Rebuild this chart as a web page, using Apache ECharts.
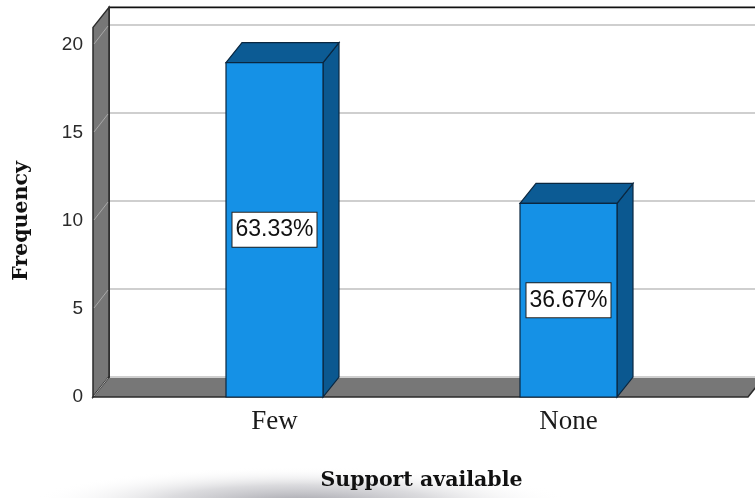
<!DOCTYPE html>
<html>
<head>
<meta charset="utf-8">
<script src="https://cdn.jsdelivr.net/npm/echarts@6/dist/echarts.min.js"></script>
<style>
  html, body { margin: 0; padding: 0; background: #ffffff; }
  #chart { width: 755px; height: 498px; }
</style>
</head>
<body>
<div id="chart"></div>
<script>
// Frequencies of the "Support available" responses
const categories = ['Few', 'None'];
const frequencies = [19, 11];
const yTicks = [0, 5, 10, 15, 20];

const total = frequencies.reduce((a, b) => a + b, 0);
const percentLabels = frequencies.map(v => (v / total * 100).toFixed(2) + '%');

// 3D extrusion and frame geometry
const DX = 16, DY = 20;          // depth offset of the walls and bar tops
const BAR_W = 97;                // width of a bar's front face
const AXIS_SHIFT = 34.5;         // front edge of the side wall, left of the grid
const FLOOR_RIGHT_EXTRA = 32.5;  // floor reaches this far beyond the grid
const WALL_TOP = 21.0;           // value reached by the top of the walls

const FRONT = '#1591e6', TOP = '#0c5b94', SIDE = '#0b5890', EDGE = '#0a2740';
const WALL = '#777777', WALL_EDGE = '#2b2b2b';

const chart = echarts.init(document.getElementById('chart'), null, { renderer: 'canvas' });

function renderFrame(params, api) {
  const cs = params.coordSys;
  const x0 = cs.x - AXIS_SHIFT;
  const yBase = api.coord([0, 0])[1];
  const yTop = api.coord([0, WALL_TOP])[1];
  const xFrontRight = cs.x + cs.width + FLOOR_RIGHT_EXTRA;
  const xFar = api.getWidth() + 40;
  return {
    type: 'group',
    children: [
      // back wall
      { type: 'rect', shape: { x: x0 + DX, y: yTop - DY, width: xFar, height: yBase - yTop },
        style: { fill: '#ffffff' } },
      { type: 'polyline', shape: { points: [[x0 + DX, yBase - DY], [x0 + DX, yTop - DY], [xFar, yTop - DY]] },
        style: { fill: null, stroke: '#111111', lineWidth: 1.6 } },
      // side wall
      { type: 'polygon', shape: { points: [[x0, yBase], [x0 + DX, yBase - DY], [x0 + DX, yTop - DY], [x0, yTop]] },
        style: { fill: WALL, stroke: WALL_EDGE, lineWidth: 1.5 } },
      // floor
      { type: 'polygon', shape: { points: [[x0, yBase], [x0 + DX, yBase - DY], [xFar, yBase - DY], [xFrontRight + DX, yBase - DY], [xFrontRight, yBase]] },
        style: { fill: WALL, stroke: WALL_EDGE, lineWidth: 1.5 } }
    ]
  };
}

function renderGridLine(params, api) {
  const cs = params.coordSys;
  const x0 = cs.x - AXIS_SHIFT;
  const y = api.coord([0, api.value(0)])[1];
  const xFar = api.getWidth() + 40;
  return {
    type: 'group',
    children: [
      { type: 'line', shape: { x1: x0 + DX + 1, y1: y - DY, x2: xFar, y2: y - DY },
        style: { stroke: '#cfcfcf', lineWidth: 2 } },
      { type: 'line', shape: { x1: x0 + 1, y1: y - 1, x2: x0 + DX - 1, y2: y - DY + 1 },
        style: { stroke: '#a8a8a8', lineWidth: 1 } }
    ]
  };
}

function renderBar(params, api) {
  const idx = api.value(0);
  const val = api.value(1);
  const top = api.coord([idx, val]);
  const base = api.coord([idx, 0]);
  const xl = top[0] - BAR_W / 2, xr = top[0] + BAR_W / 2;
  const yt = top[1], yb = base[1];
  return {
    type: 'group',
    children: [
      { type: 'polygon', shape: { points: [[xr, yt], [xr + DX, yt - DY], [xr + DX, yb - DY], [xr, yb]] },
        style: { fill: SIDE, stroke: EDGE, lineWidth: 1.2 } },
      { type: 'polygon', shape: { points: [[xl, yt], [xl + DX, yt - DY], [xr + DX, yt - DY], [xr, yt]] },
        style: { fill: TOP, stroke: EDGE, lineWidth: 1.2 } },
      { type: 'rect', shape: { x: xl, y: yt, width: BAR_W, height: yb - yt },
        style: { fill: FRONT, stroke: EDGE, lineWidth: 1.2 } },
      { type: 'text', x: top[0], y: (yt + yb) / 2,
        style: {
          text: percentLabels[idx],
          fill: '#111111',
          font: '23px "Liberation Sans", Arial, sans-serif',
          align: 'center', verticalAlign: 'middle',
          backgroundColor: '#ffffff', borderColor: '#222222', borderWidth: 1,
          padding: [6, 3, 5, 3]
        } }
    ]
  };
}

chart.setOption({
  animation: false,
  backgroundColor: '#ffffff',
  // soft grey smudge under the axis title
  graphic: [{
    type: 'circle',
    z: -10,
    silent: true,
    x: 300, y: 503,
    scaleX: 7.5, scaleY: 1,
    shape: { cx: 0, cy: 0, r: 36 },
    style: {
      fill: {
        type: 'radial', x: 0.5, y: 0.5, r: 0.5,
        colorStops: [
          { offset: 0, color: 'rgba(100,100,112,0.6)' },
          { offset: 0.5, color: 'rgba(135,135,145,0.3)' },
          { offset: 1, color: 'rgba(255,255,255,0)' }
        ]
      }
    }
  }],
  grid: { left: 127.5, top: 45, width: 588, height: 352, containLabel: false, outerBoundsMode: 'none' },
  xAxis: {
    type: 'category',
    data: categories,
    axisLine: { show: false },
    axisTick: { show: false },
    axisLabel: { color: '#1a1a1a', fontFamily: '"Liberation Serif", serif', fontSize: 27, margin: 11 },
    name: 'Support available',
    nameLocation: 'middle',
    nameGap: 73,
    nameTextStyle: { color: '#111111', fontFamily: '"DejaVu Serif", serif', fontWeight: 'bold', fontSize: 20.5 }
  },
  yAxis: {
    type: 'value',
    min: 0, max: 20, interval: 5,
    offset: AXIS_SHIFT,
    axisLine: { show: false },
    axisTick: { show: false },
    splitLine: { show: false },
    axisLabel: { color: '#2a2a2a', fontFamily: '"Liberation Sans", Arial, sans-serif', fontSize: 19, margin: 10 },
    name: 'Frequency',
    nameLocation: 'middle',
    nameRotate: 90,
    nameGap: 61,
    nameTextStyle: { color: '#111111', fontFamily: '"DejaVu Serif", serif', fontWeight: 'bold', fontSize: 20.5 }
  },
  series: [
    { type: 'custom', name: 'frame', renderItem: renderFrame, data: [[0, WALL_TOP]],
      encode: { x: 0, y: 1 }, clip: false, silent: true, z: 1 },
    { type: 'custom', name: 'gridlines', renderItem: renderGridLine, data: yTicks.map(v => [v]),
      encode: { y: 0 }, clip: false, silent: true, z: 2 },
    { type: 'custom', name: 'Frequency', renderItem: renderBar,
      data: frequencies.map((v, i) => [i, v]),
      encode: { x: 0, y: 1 }, clip: false, z: 3 }
  ]
});
</script>
</body>
</html>
